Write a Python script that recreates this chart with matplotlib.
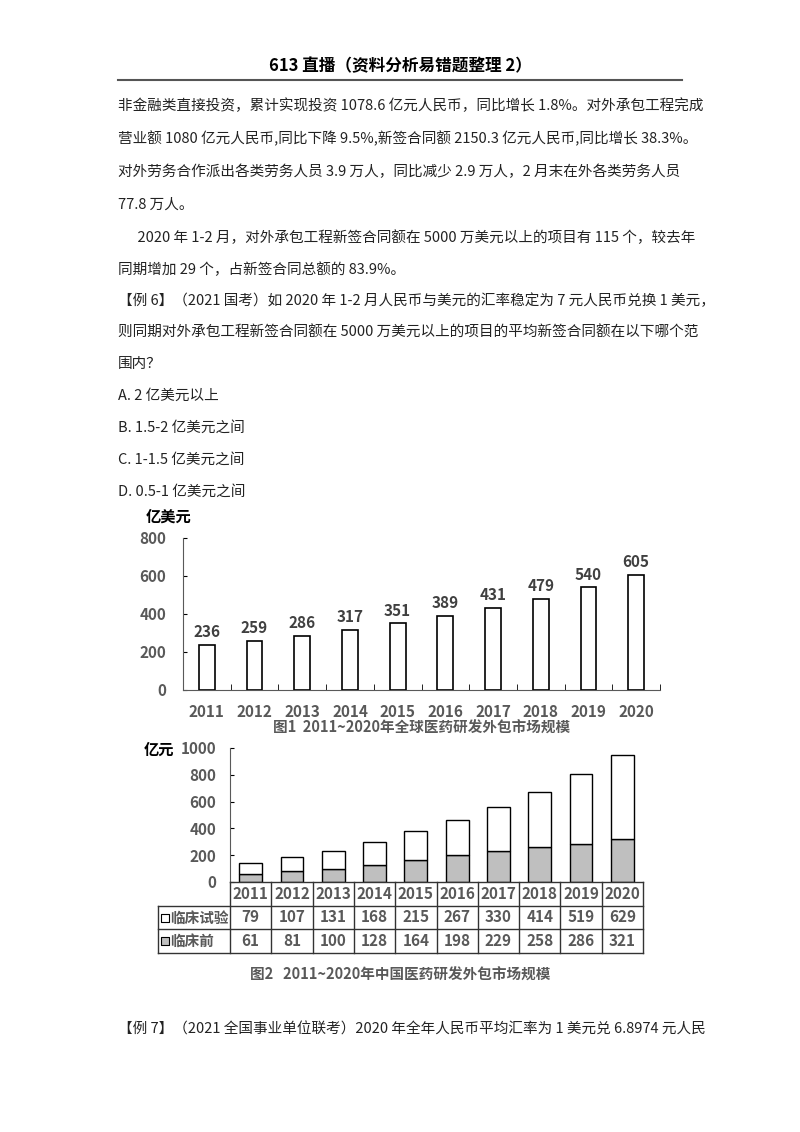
import matplotlib
matplotlib.use("Agg")
import matplotlib.pyplot as plt
import numpy as np

plt.rcParams["font.family"] = ["Noto Sans CJK SC", "DejaVu Sans"]

# Data
years = ["2011", "2012", "2013", "2014", "2015", "2016", "2017", "2018", "2019", "2020"]
global_size = [236, 259, 286, 317, 351, 389, 431, 479, 540, 605]
clinical = [79, 107, 131, 168, 215, 267, 330, 414, 519, 629]
preclinical = [61, 81, 100, 128, 164, 198, 229, 258, 286, 321]

body_lines = [
    "非金融类直接投资，累计实现投资 1078.6 亿元人民币，同比增长 1.8%。对外承包工程完成",
    "营业额 1080 亿元人民币,同比下降 9.5%,新签合同额 2150.3 亿元人民币,同比增长 38.3%。",
    "对外劳务合作派出各类劳务人员 3.9 万人，同比减少 2.9 万人，2 月末在外各类劳务人员",
    "77.8 万人。",
    "      2020 年 1-2 月，对外承包工程新签合同额在 5000 万美元以上的项目有 115 个，较去年",
    "同期增加 29 个，占新签合同总额的 83.9%。",
    "【例 6】（2021 国考）如 2020 年 1-2 月人民币与美元的汇率稳定为 7 元人民币兑换 1 美元，",
    "则同期对外承包工程新签合同额在 5000 万美元以上的项目的平均新签合同额在以下哪个范",
    "围内？",
    "A. 2 亿美元以上",
    "B. 1.5-2 亿美元之间",
    "C. 1-1.5 亿美元之间",
    "D. 0.5-1 亿美元之间",
]

W, H = 800, 1132
fig = plt.figure(figsize=(W / 100, H / 100), dpi=100)

page = fig.add_axes([0, 0, 1, 1])
page.set_xlim(0, W)
page.set_ylim(H, 0)
page.axis("off")

page.text(400, 66, "613 直播（资料分析易错题整理 2）", ha="center", va="center",
          fontsize=12, fontweight="bold")
page.plot([118, 682], [80, 80], color="#555555", lw=1.5)

line_y = [106, 140, 173, 207, 242, 275, 300, 332, 364, 396, 428, 460, 492]
line_y = [106, 139, 172, 205, 238, 270, 301, 333, 364, 396, 428, 460, 492]
for y, s in zip(line_y, body_lines):
    page.text(118, y, s, ha="left", va="center", fontsize=10.5, color="#222222")

page.text(118, 1030, "【例 7】（2021 全国事业单位联考）2020 年全年人民币平均汇率为 1 美元兑 6.8974 元人民",
          ha="left", va="center", fontsize=10.5, color="#222222")

gray = "#595959"

def fig_rect(x0, y0, x1, y1):
    return [x0 / W, 1 - y1 / H, (x1 - x0) / W, (y1 - y0) / H]

# Chart 1
ax1 = fig.add_axes(fig_rect(183, 538, 660, 690))
x = np.arange(len(years))
ax1.bar(x, global_size, width=0.33, color="white", edgecolor="black", lw=1.2)
for xi, v in zip(x, global_size):
    ax1.text(xi, v + 25, str(v), ha="center", va="bottom", fontsize=11,
             fontweight="bold", color="#404040")
ax1.set_xlim(-0.5, 9.5)
ax1.set_ylim(0, 800)
ax1.set_yticks([0, 200, 400, 600, 800])
ax1.set_xticks(x)
ax1.set_xticklabels(years)
ax1.set_xticks(np.arange(-0.5, 10, 1), minor=True)
ax1.tick_params(axis="x", which="major", length=0, pad=10, labelsize=11, labelcolor=gray)
ax1.tick_params(axis="x", which="minor", length=4, direction="in")
ax1.tick_params(axis="y", length=3, direction="in", labelsize=11, labelcolor=gray, pad=12)
for lab in ax1.get_xticklabels() + ax1.get_yticklabels():
    lab.set_fontweight("bold")
for sp in ["top", "right"]:
    ax1.spines[sp].set_visible(False)
ax1.spines["left"].set_color(gray)
ax1.spines["bottom"].set_color(gray)
page.text(146, 517, "亿美元", ha="left", va="center", fontsize=11, fontweight="bold")
page.text(422, 728, "图1  2011~2020年全球医药研发外包市场规模", ha="center", va="center",
          fontsize=10.5, fontweight="bold", color=gray)

# Chart 2
ax2 = fig.add_axes(fig_rect(230, 748, 643, 882))
ax2.bar(x, preclinical, width=0.55, color="#bfbfbf", edgecolor="black", lw=1)
ax2.bar(x, clinical, bottom=preclinical, width=0.55, color="white", edgecolor="black", lw=1)
ax2.set_xlim(-0.5, 9.5)
ax2.set_ylim(0, 1000)
ax2.set_yticks([0, 200, 400, 600, 800, 1000])
ax2.set_xticks([])
ax2.tick_params(axis="y", length=3, direction="in", labelsize=11, labelcolor=gray, pad=10)
for lab in ax2.get_yticklabels():
    lab.set_fontweight("bold")
for sp in ["top", "right", "bottom"]:
    ax2.spines[sp].set_visible(False)
ax2.spines["left"].set_color(gray)
page.text(144, 750, "亿元", ha="left", va="center", fontsize=11, fontweight="bold")

# Table below chart 2, sharing x scale
tab = fig.add_axes(fig_rect(230, 882, 643, 953))
tab.set_xlim(-0.5, 9.5)
tab.set_ylim(3, 0)
tab.axis("off")
left_edge = -0.5 - (230 - 158) / (413 / 10)
kw = dict(color="#333333", lw=1, clip_on=False)
tab.plot([-0.5, 9.5], [0, 0], **kw)
for yy in [1, 2, 3]:
    tab.plot([left_edge, 9.5], [yy, yy], **kw)
for i in range(11):
    tab.plot([i - 0.5, i - 0.5], [0, 3], **kw)
tab.plot([left_edge, left_edge], [1, 3], **kw)
for i, yr in enumerate(years):
    tab.text(i, 0.5, yr, ha="center", va="center", fontsize=11, fontweight="bold", color=gray)
    tab.text(i, 1.5, str(clinical[i]), ha="center", va="center", fontsize=11,
             fontweight="bold", color=gray)
    tab.text(i, 2.5, str(preclinical[i]), ha="center", va="center", fontsize=11,
             fontweight="bold", color=gray)
for row, name, fc in [(1.5, "临床试验", "white"), (2.5, "临床前", "#bfbfbf")]:
    tab.scatter([left_edge + 0.16], [row], marker="s", s=28, facecolor=fc,
                edgecolor="black", lw=0.8, clip_on=False)
    tab.text(left_edge + 0.3, row, name, ha="left", va="center", fontsize=10.5,
             fontweight="bold", color=gray)

page.text(400, 975, "图2   2011~2020年中国医药研发外包市场规模", ha="center", va="center",
          fontsize=10.5, fontweight="bold", color=gray)

fig.savefig("out.png", dpi=100)
